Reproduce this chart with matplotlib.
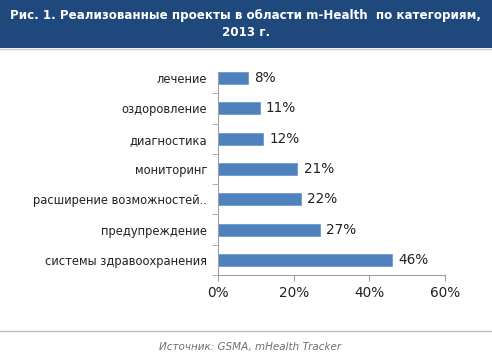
import numpy as np
import matplotlib.pyplot as plt
from matplotlib.patches import Rectangle
from matplotlib.lines import Line2D

# Данные
categories = ["лечение", "оздоровление", "диагностика", "мониторинг",
              "расширение возможностей..", "предупреждение",
              "системы здравоохранения"]
values = [8, 11, 12, 21, 22, 27, 46]
xticks = [0, 20, 40, 60]

plt.rcParams['font.family'] = ['DejaVu Sans']

fig = plt.figure(figsize=(4.92, 3.63), dpi=100)

# Шапка с заголовком
fig.patches.append(Rectangle((0, 1 - 48 / 363), 1, 48 / 363, transform=fig.transFigure,
                             facecolor='#1F497D', edgecolor='none', zorder=0))
fig.lines.append(Line2D([0, 1], [1 - 49 / 363] * 2, transform=fig.transFigure,
                        color='#C8C8C8', lw=1))
fig.text(0.5, 1 - 24 / 363,
         "Рис. 1. Реализованные проекты в области m-Health  по категориям,\n2013 г.",
         ha='center', va='center', color='white', fontsize=8.6, fontweight='bold',
         linespacing=1.3)

ax = fig.add_axes([218 / 492, 1 - 275 / 363, 227 / 492, 212 / 363])
y = np.arange(len(categories))
ax.barh(y, values, height=0.4, color='#4F81BD', edgecolor='#6C98CF', linewidth=0.6)
ax.set_ylim(len(categories) - 0.5, -0.5)
ax.set_xlim(0, 60)

for yi, v in zip(y, values):
    ax.text(v + 1.6, yi, f"{v}%", va='center', ha='left', fontsize=9.8, color='#222222')

ax.set_xticks(xticks)
ax.set_xticklabels([f"{t}%" for t in xticks], fontsize=9.8, color='#222222')
ax.set_yticks(y)
ax.set_yticklabels(categories, fontsize=8.3, color='#222222')
ax.tick_params(axis='y', length=0, pad=8)
ax.set_yticks(np.arange(0.5, len(categories) + 0.5, 1), minor=True)
ax.tick_params(axis='y', which='minor', length=4, color='#A0A0A0')
ax.tick_params(axis='x', length=4, color='#A0A0A0', pad=4)

for s in ['top', 'right']:
    ax.spines[s].set_visible(False)
for s in ['left', 'bottom']:
    ax.spines[s].set_color('#A0A0A0')
    ax.spines[s].set_linewidth(0.8)
ax.spines['left'].set_bounds(len(categories) - 0.5, -0.2)

# Нижняя подпись
fig.lines.append(Line2D([0, 1], [1 - 331 / 363] * 2, transform=fig.transFigure,
                        color='#BEBEBE', lw=1))
fig.text(250 / 492, 1 - 347 / 363, "Источник: GSMA, mHealth Tracker",
         ha='center', va='center', color='#707070', fontsize=7.5, style='italic')

fig.savefig("out.png", dpi=100)
